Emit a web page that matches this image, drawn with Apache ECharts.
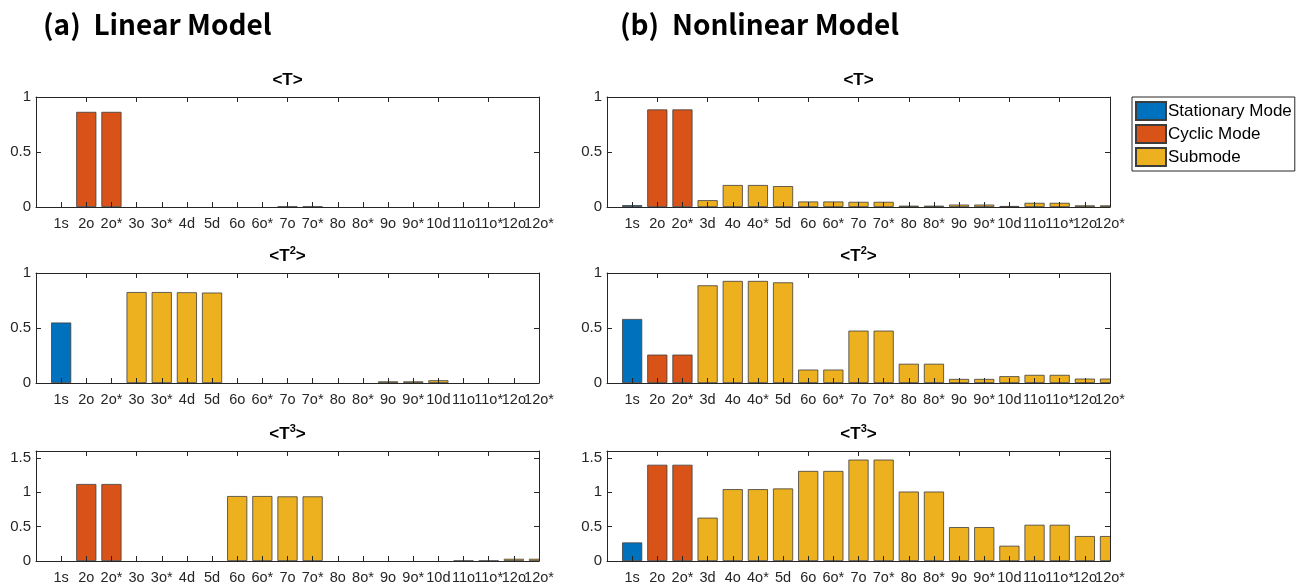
<!DOCTYPE html>
<html>
<head>
<meta charset="utf-8">
<script src="https://cdn.jsdelivr.net/npm/echarts@6/dist/echarts.min.js"></script>
<style>
  html, body { margin: 0; padding: 0; background: #fff; }
  #chart { width: 1309px; height: 587px; }
</style>
</head>
<body>
<div id="chart"></div>
<script>
// 类别（两个模型的第4个类别不同）
const linearCats = ['1s', '2o', '2o*', '3o', '3o*', '4d', '5d', '6o', '6o*', '7o', '7o*', '8o', '8o*', '9o', '9o*', '10d', '11o', '11o*', '12o', '12o*']
const nonlinearCats = ['1s', '2o', '2o*', '3d', '4o', '4o*', '5d', '6o', '6o*', '7o', '7o*', '8o', '8o*', '9o', '9o*', '10d', '11o', '11o*', '12o', '12o*']
// 每个类别所属模式: s = stationary, c = cyclic, m = submode
const modeOf = ['s', 'c', 'c', 'm', 'm', 'm', 'm', 'm', 'm', 'm', 'm', 'm', 'm', 'm', 'm', 'm', 'm', 'm', 'm', 'm']

// (a) Linear Model
const linearT1 = [0, 0.865, 0.865, 0, 0, 0, 0, 0, 0, 0.004, 0.004, 0, 0, 0, 0, 0, 0, 0, 0, 0]
const linearT2 = [0.55, 0, 0, 0.827, 0.827, 0.825, 0.822, 0, 0, 0, 0, 0, 0, 0.015, 0.015, 0.025, 0, 0, 0, 0]
const linearT3 = [0, 1.12, 1.12, 0, 0, 0, 0, 0.945, 0.945, 0.94, 0.94, 0, 0, 0, 0, 0, 0.004, 0.004, 0.032, 0.032]

// (b) Nonlinear Model
const nonlinearT1 = [0.017, 0.887, 0.887, 0.062, 0.2, 0.2, 0.19, 0.05, 0.05, 0.047, 0.047, 0.012, 0.012, 0.022, 0.022, 0.009, 0.038, 0.038, 0.015, 0.015]
const nonlinearT2 = [0.582, 0.258, 0.258, 0.888, 0.928, 0.928, 0.915, 0.122, 0.122, 0.476, 0.476, 0.175, 0.175, 0.037, 0.037, 0.062, 0.074, 0.074, 0.04, 0.04]
const nonlinearT3 = [0.27, 1.4, 1.4, 0.63, 1.045, 1.045, 1.055, 1.31, 1.31, 1.475, 1.475, 1.01, 1.01, 0.493, 0.493, 0.222, 0.527, 0.527, 0.363, 0.363]

// y轴刻度标签
const yTicksSmall = [0, 0.5, 1]
const yTicksLarge = [0, 0.5, 1, 1.5]

const modeNames = { s: 'Stationary Mode', c: 'Cyclic Mode', m: 'Submode' }
const modeColors = { s: '#0072BD', c: '#D95319', m: '#EDB120' }

const colLefts = [36, 607]
const rowTops = [97, 273, 451]
const gridW = 503
const gridH = 110

const panels = [
  { col: 0, row: 0, cats: linearCats, values: linearT1, max: 1, ticks: yTicksSmall, sup: '' },
  { col: 0, row: 1, cats: linearCats, values: linearT2, max: 1, ticks: yTicksSmall, sup: '2' },
  { col: 0, row: 2, cats: linearCats, values: linearT3, max: 1.6, ticks: yTicksLarge, sup: '3' },
  { col: 1, row: 0, cats: nonlinearCats, values: nonlinearT1, max: 1, ticks: yTicksSmall, sup: '' },
  { col: 1, row: 1, cats: nonlinearCats, values: nonlinearT2, max: 1, ticks: yTicksSmall, sup: '2' },
  { col: 1, row: 2, cats: nonlinearCats, values: nonlinearT3, max: 1.6, ticks: yTicksLarge, sup: '3' }
]

const axisColor = '#262626'
const grid = []
const xAxis = []
const yAxis = []
const series = []
const graphic = []

panels.forEach((p, i) => {
  const left = colLefts[p.col]
  const top = rowTops[p.row]
  grid.push({ left: left, top: top, width: gridW, height: gridH, containLabel: false })

  // x范围和 MATLAB 一样从 0 开始，最后一根柱子被右边框截掉一半
  const cats = [''].concat(p.cats)
  const tickStyle = { show: true, inside: true, length: 5, lineStyle: { color: axisColor } }
  // 下方x轴
  xAxis.push({
    type: 'category', gridIndex: i, position: 'bottom', data: cats, boundaryGap: false, z: 5,
    axisLine: { show: true, lineStyle: { color: axisColor, width: 1 } },
    axisTick: tickStyle,
    axisLabel: { interval: 0, margin: 9, fontSize: 14.5, color: axisColor }
  })
  // 上方x轴（只画刻度）
  xAxis.push({
    type: 'category', gridIndex: i, position: 'top', data: cats, boundaryGap: false, z: 5,
    axisLine: { show: true, onZero: false, lineStyle: { color: axisColor, width: 1 } },
    axisTick: tickStyle,
    axisLabel: { show: false }
  })
  const ticks = p.ticks
  yAxis.push({
    type: 'value', gridIndex: i, position: 'left', min: 0, max: p.max, interval: 0.5, z: 5,
    splitLine: { show: false },
    axisLine: { show: true, lineStyle: { color: axisColor, width: 1 } },
    axisTick: { show: true, inside: true, length: 5, lineStyle: { color: axisColor } },
    axisLabel: {
      margin: 5, fontSize: 15, color: axisColor,
      formatter: v => (ticks.indexOf(v) >= 0 ? String(v) : '')
    }
  })
  yAxis.push({
    type: 'value', gridIndex: i, position: 'right', min: 0, max: p.max, interval: 0.5, z: 5,
    splitLine: { show: false },
    axisLine: { show: true, onZero: false, lineStyle: { color: axisColor, width: 1 } },
    axisTick: { show: true, inside: true, length: 5, lineStyle: { color: axisColor } },
    axisLabel: { show: false }
  })

  // 三个系列堆叠在同一位置，按模式上色（值为0的不画）
  ;['s', 'c', 'm'].forEach(mode => {
    series.push({
      name: modeNames[mode],
      type: 'bar',
      xAxisIndex: i * 2,
      yAxisIndex: i * 2,
      stack: 'p' + i,
      barWidth: '80%',
      z: 2,
      itemStyle: { color: modeColors[mode], borderColor: '#3d3d3d', borderWidth: 0.8 },
      emphasis: { disabled: true },
      data: [null].concat(p.values.map((v, k) => (modeOf[k] === mode && v > 0 ? v : null)))
    })
  })

  // 遮住超出右边框的半根柱子
  graphic.push({
    type: 'rect', z: 3,
    shape: { x: left + gridW + 0.5, y: top - 2, width: 16, height: gridH + 3 },
    style: { fill: '#fff' }
  })

  // 子图标题 <T>, <T^2>, <T^3>
  const txt = p.sup ? '{b|<T}{s|' + p.sup + '}{b|>}' : '{b|<T>}'
  graphic.push({
    type: 'text',
    x: left + gridW / 2,
    y: top - 8,
    style: {
      text: txt,
      align: 'center',
      verticalAlign: 'bottom',
      rich: {
        b: { fontSize: 17, fontWeight: 'bold', fill: '#000', fontFamily: 'Liberation Sans', verticalAlign: 'bottom' },
        s: { fontSize: 11, fontWeight: 'bold', fill: '#000', fontFamily: 'Liberation Sans', verticalAlign: 'bottom', padding: [0, 0, 9, 0] }
      }
    }
  })
})

// 大标题
graphic.push({
  type: 'text', x: 43, y: 24,
  style: { text: '(a)  Linear Model', fontSize: 28, fontWeight: 'bold', fill: '#000', fontFamily: 'Noto Sans CJK KR', verticalAlign: 'middle' }
})
graphic.push({
  type: 'text', x: 620, y: 24,
  style: { text: '(b)  Nonlinear Model', fontSize: 28, fontWeight: 'bold', fill: '#000', fontFamily: 'Noto Sans CJK KR', verticalAlign: 'middle' }
})

const option = {
  animation: false,
  backgroundColor: '#fff',
  textStyle: { fontFamily: 'Liberation Sans' },
  legend: {
    orient: 'vertical',
    left: 1132,
    top: 97,
    icon: 'rect',
    itemWidth: 30,
    itemHeight: 18,
    itemGap: 3,
    padding: [4, 3, 4, 3],
    borderColor: axisColor,
    borderWidth: 1,
    backgroundColor: '#fff',
    selectedMode: false,
    data: ['Stationary Mode', 'Cyclic Mode', 'Submode'],
    textStyle: { fontSize: 17, color: '#000', padding: [0, 0, 0, -3] }
  },
  grid,
  xAxis,
  yAxis,
  series,
  graphic
}

const myChart = echarts.init(document.getElementById('chart'))
myChart.setOption(option)
</script>
</body>
</html>
